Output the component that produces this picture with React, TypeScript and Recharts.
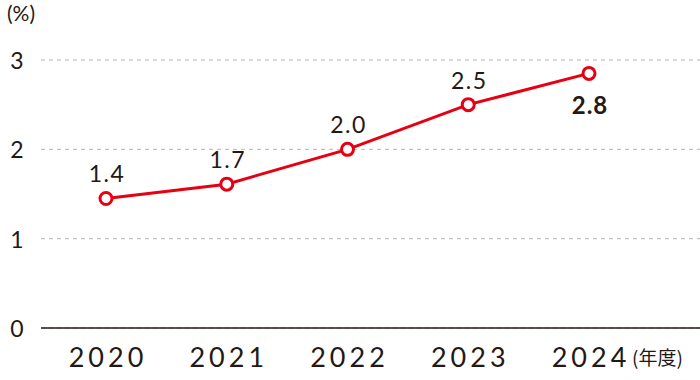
import { LineChart, Line, XAxis, YAxis, CartesianGrid, LabelList } from 'recharts';

const years = ['2020', '2021', '2022', '2023', '2024'];
const rates = [1.45, 1.61, 2.0, 2.5, 2.85];
const rateLabels = ['1.4', '1.7', '2.0', '2.5', '2.8'];
const yTicks = [0, 1, 2, 3];

const RED = '#e60012';
const INK = '#231815';
const FONT = 'Lato, "Noto Sans", sans-serif';

const data = years.map((year, i) => ({ year, rate: rates[i], label: rateLabels[i] }));

function XTick({ x, y, payload }: any) {
  return (
    <text x={x + 2} y={y + 20} textAnchor="middle" dominantBaseline="central"
      fill={INK} fontSize={27} letterSpacing={4} fontFamily={FONT}>
      {payload.value}
    </text>
  );
}

function YTick({ y, payload }: any) {
  return (
    <text x={17} y={y} textAnchor="middle" dominantBaseline="central"
      fill={INK} fontSize={23} fontFamily={FONT}>
      {payload.value}
    </text>
  );
}

function PointLabel({ x, y, index }: any) {
  const last = index === data.length - 1;
  return (
    <text x={x + 1} y={last ? y + 31 : y - 25} textAnchor="middle" dominantBaseline="central"
      fill={INK} fontSize={last ? 24 : 23} fontWeight={last ? 700 : 400}
      letterSpacing={last ? 1 : 1.5} fontFamily={FONT}>
      {data[index].label}
    </text>
  );
}

export default function App() {
  return (
    <div style={{ position: 'absolute', left: 0, top: 0, width: 700, height: 380, background: '#fff', fontFamily: FONT }}>
      <div style={{ position: 'absolute', left: 7, top: 0, fontSize: 21, color: INK }}>(%)</div>
      <div style={{ position: 'absolute', left: 632, top: 343, fontSize: 19, color: INK, fontFamily: '"Noto Sans CJK JP", sans-serif' }}>
        (年度)
      </div>
      <LineChart width={700} height={380} data={data} margin={{ top: 60, right: 0, bottom: 0, left: 0 }}>
        <CartesianGrid vertical={false} stroke="#b5b5b5" strokeDasharray="4 4" />
        <XAxis
          dataKey="year"
          height={52}
          padding={{ left: 65, right: 111 }}
          tickLine={false}
          axisLine={{ stroke: INK, strokeWidth: 1.5 }}
          tick={<XTick />}
          interval={0}
        />
        <YAxis
          width={41}
          domain={[0, 3]}
          ticks={yTicks}
          axisLine={false}
          tickLine={false}
          tick={<YTick />}
        />
        <Line
          type="linear"
          dataKey="rate"
          stroke={RED}
          strokeWidth={3}
          dot={{ r: 6, fill: '#fff', stroke: RED, strokeWidth: 3 }}
          activeDot={false}
          isAnimationActive={false}
        >
          <LabelList dataKey="label" content={<PointLabel />} />
        </Line>
      </LineChart>
    </div>
  );
}
